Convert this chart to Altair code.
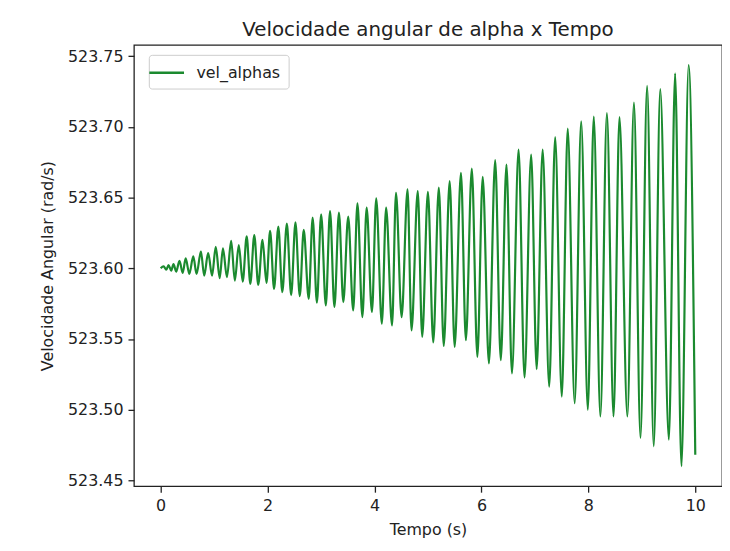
import altair as alt
import pandas as pd

# Extrema (time in s, angular velocity in rad/s)
tempo = [
    0.000, 0.055, 0.105, 0.148, 0.198, 0.240, 0.290, 0.352, 0.412, 0.468,
    0.536, 0.610, 0.671, 0.753, 0.814, 0.888, 0.962, 1.030, 1.104, 1.165,
    1.239, 1.319, 1.387, 1.461, 1.535, 1.609, 1.677, 1.751, 1.825, 1.905,
    1.979, 2.047, 2.121, 2.201, 2.275, 2.360, 2.441, 2.521, 2.602, 2.676,
    2.769, 2.843, 2.922, 3.002, 3.089, 3.168, 3.250, 3.335, 3.416, 3.508,
    3.601, 3.681, 3.773, 3.853, 3.952, 4.032, 4.137, 4.217, 4.328, 4.402,
    4.507, 4.618, 4.692, 4.809, 4.892, 4.999, 5.099, 5.203, 5.295, 5.406,
    5.499, 5.617, 5.709, 5.820, 5.924, 6.024, 6.140, 6.257, 6.362, 6.468,
    6.571, 6.695, 6.806, 6.930, 7.033, 7.145, 7.268, 7.379, 7.503, 7.614,
    7.744, 7.866, 7.990, 8.101, 8.225, 8.347, 8.471, 8.582, 8.730, 8.853,
    8.975, 9.099, 9.223, 9.345, 9.506, 9.623, 9.741, 9.876, 10.000,
]
vel_alphas = [
    523.6000, 523.6014, 523.5990, 523.6023, 523.5983, 523.6030, 523.5976, 523.6053, 523.5967, 523.6070,
    523.5960, 523.6084, 523.5960, 523.6117, 523.5948, 523.6108, 523.5948, 523.6152, 523.5930, 523.6141,
    523.5937, 523.6194, 523.5913, 523.6164, 523.5906, 523.6225, 523.5890, 523.6234, 523.5883, 523.6201,
    523.5897, 523.6264, 523.5854, 523.6295, 523.5831, 523.6315, 523.5810, 523.6324, 523.5803, 523.6271,
    523.5784, 523.6359, 523.5756, 523.6382, 523.5737, 523.6405, 523.5726, 523.6394, 523.5761, 523.6366,
    523.5702, 523.6459, 523.5655, 523.6429, 523.5691, 523.6494, 523.5608, 523.6429, 523.5596, 523.6534,
    523.5655, 523.6558, 523.5561, 523.6546, 523.5515, 523.6541, 523.5475, 523.6570, 523.5451, 523.6616,
    523.5444, 523.6675, 523.5491, 523.6705, 523.5374, 523.6647, 523.5327, 523.6764, 523.5350, 523.6733,
    523.5257, 523.6839, 523.5227, 523.6804, 523.5287, 523.6839, 523.5163, 523.6928, 523.5093, 523.6988,
    523.5046, 523.7038, 523.4999, 523.7073, 523.4952, 523.7097, 523.4952, 523.7069, 523.4952, 523.7172,
    523.4800, 523.7289, 523.4741, 523.7266, 523.4788, 523.7378, 523.4601, 523.7437, 523.4682,
]
series_name = "vel_alphas"
x_ticks = [0, 2, 4, 6, 8, 10]
y_ticks = [523.45, 523.50, 523.55, 523.60, 523.65, 523.70, 523.75]

df = pd.DataFrame({"t": tempo, "v": vel_alphas, "serie": [series_name] * len(tempo)})

FONT = "DejaVu Sans"
TXT = "#222222"

chart = (
    alt.Chart(df)
    .mark_line(interpolate="monotone", strokeWidth=2.2, clip=True)
    .encode(
        x=alt.X(
            "t:Q",
            scale=alt.Scale(domain=[-0.5, 10.5], nice=False, zero=False),
            axis=alt.Axis(values=x_ticks, format="d", title="Tempo (s)", titlePadding=9),
        ),
        y=alt.Y(
            "v:Q",
            scale=alt.Scale(domain=[523.4459, 523.7579], nice=False, zero=False),
            axis=alt.Axis(values=y_ticks, format=".2f", title="Velocidade Angular (rad/s)", titlePadding=12),
        ),
        color=alt.Color(
            "serie:N",
            scale=alt.Scale(domain=[series_name], range=["#1b8a2f"]),
            legend=alt.Legend(
                title=None,
                orient="none",
                legendX=15,
                legendY=10,
                symbolType="M-2,0H2",
                symbolSize=306,
                symbolStrokeWidth=2.4,
                labelFontSize=16,
                labelFont=FONT,
                labelColor=TXT,
                labelOffset=20,
                padding=8,
                strokeColor="#cccccc",
                fillColor="#ffffff",
                cornerRadius=3,
            ),
        ),
    )
    .properties(
        width=593,
        height=445,
        title=alt.Title(
            "Velocidade angular de alpha x Tempo",
            fontSize=20,
            font=FONT,
            fontWeight="normal",
            color=TXT,
            anchor="middle",
            baseline="alphabetic",
            offset=10,
            dy=21,
        ),
        autosize=alt.AutoSizeParams(type="none"),
        padding={"left": 127, "top": 35, "right": 0, "bottom": 53},
        background="#ffffff",
    )
    .configure_view(stroke="#222222", strokeWidth=1.3)
    .configure_axis(
        grid=False,
        domain=False,
        labelFont=FONT,
        labelFontSize=16,
        labelColor=TXT,
        titleFont=FONT,
        titleFontSize=16,
        titleFontWeight="normal",
        titleColor=TXT,
        tickColor="#222222",
        tickWidth=1.3,
        tickSize=6,
        labelPadding=5,
    )
)

chart.save("out.html", embed_options={"renderer": "svg", "actions": False})
